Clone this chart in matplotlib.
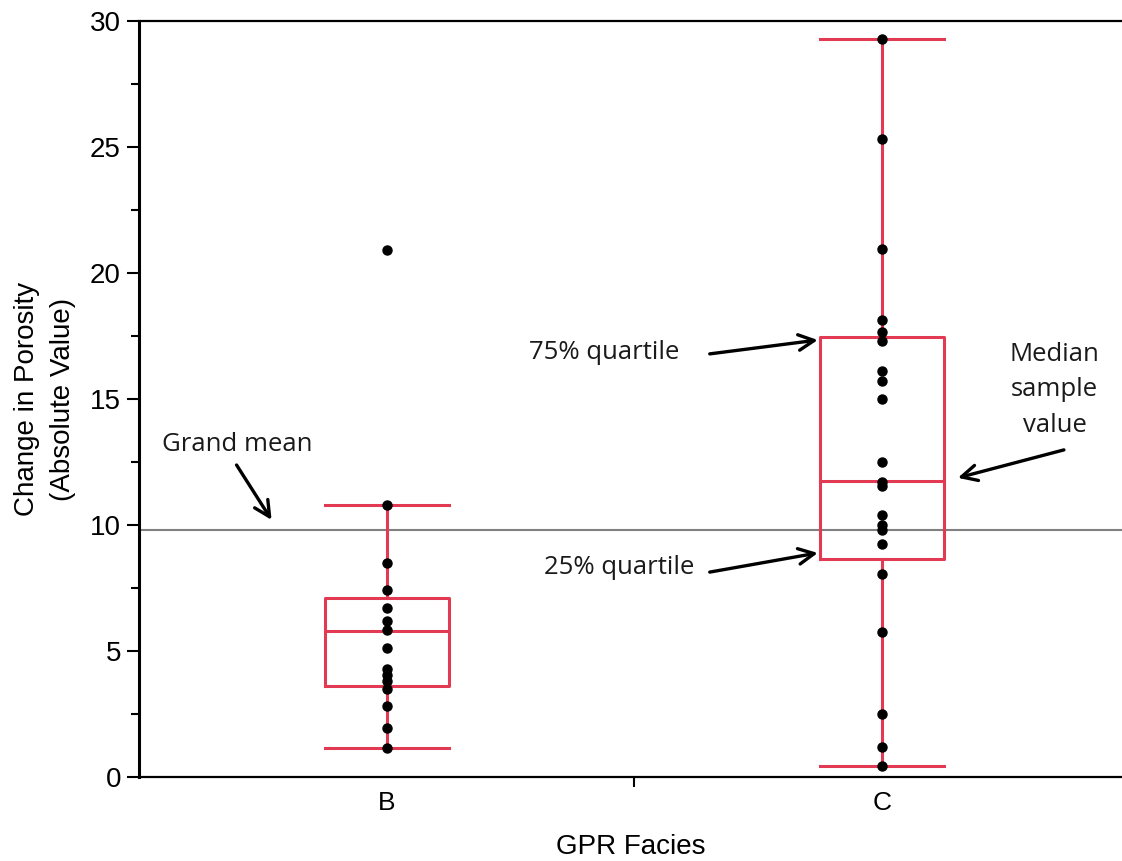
import matplotlib

matplotlib.use("Agg")
import matplotlib.pyplot as plt
from matplotlib.ticker import MultipleLocator, FixedLocator

# change in porosity per sample, grouped by GPR facies
facies = ["B", "C"]
porosity_b = [20.9, 10.8, 8.5, 7.4, 6.7, 6.2, 5.85, 5.1, 4.3, 4.05, 3.8, 3.5, 2.8, 1.95, 1.15]
porosity_c = [29.3, 25.3, 20.95, 18.15, 17.65, 17.3, 16.1, 15.7, 15.0, 12.5, 11.7,
              11.55, 10.4, 10.0, 9.8, 9.25, 8.05, 5.75, 2.5, 1.2, 0.45]

# quantile box summary (whisker low, q1, median, q3, whisker high)
whisker_lo = [1.15, 0.45]
q1 = [3.6, 8.65]
median = [5.78, 11.76]
q3 = [7.1, 17.47]
whisker_hi = [10.8, 29.3]

grand_mean = 9.8

RED = "#E23A53"

plt.rcParams["font.family"] = ["Liberation Sans", "DejaVu Sans"]

fig = plt.figure(figsize=(11.22, 8.61), dpi=100)
ax = fig.add_axes([0.1239, 0.0976, 0.8761, 0.878])

stats = []
for i, name in enumerate(facies):
    stats.append({
        "label": name, "whislo": whisker_lo[i], "q1": q1[i], "med": median[i],
        "q3": q3[i], "whishi": whisker_hi[i], "fliers": [],
    })

line_kw = dict(color=RED, linewidth=2.2)
ax.bxp(stats, positions=[0, 1], widths=0.25, capwidths=0.25, showfliers=False,
       boxprops=line_kw, whiskerprops=line_kw, capprops=line_kw, medianprops=line_kw,
       manage_ticks=False, zorder=2)

ax.axhline(grand_mean, color="#808080", linewidth=1.5, zorder=1)

for i, vals in enumerate([porosity_b, porosity_c]):
    ax.plot([i] * len(vals), vals, "o", color="black", markersize=6.5, zorder=3)

ax.set_xlim(-0.5, 1.485)
ax.set_ylim(0, 30)

ax.xaxis.set_major_locator(FixedLocator([0, 1]))
ax.set_xticklabels(facies)
ax.xaxis.set_minor_locator(FixedLocator([0.5]))
ax.tick_params(axis="x", which="major", length=0, pad=10, labelsize=19)
ax.tick_params(axis="x", which="minor", length=7, width=1.5, direction="out")

ax.yaxis.set_major_locator(MultipleLocator(5))
ax.yaxis.set_minor_locator(MultipleLocator(2.5))
ax.tick_params(axis="y", which="major", length=9, width=1.5, labelsize=20, pad=4)
ax.tick_params(axis="y", which="minor", length=6, width=1.5)

for side in ["top", "bottom"]:
    ax.spines[side].set_linewidth(1.6)
ax.spines["left"].set_linewidth(2.2)
ax.spines["right"].set_visible(False)

ax.set_ylabel("Change in Porosity\n(Absolute Value)", fontsize=20, labelpad=10,
              linespacing=1.5)
ax.set_xlabel("GPR Facies", fontsize=20, labelpad=14)

# annotations: labels and their arrows drawn separately
note_font = dict(fontsize=18.5, family=["Open Sans", "DejaVu Sans"], color="#1a1a1a",
                 ha="center", va="center")
arrow = dict(arrowstyle="->", color="black", lw=2.4, mutation_scale=28,
             shrinkA=0, shrinkB=0)

ax.text(-0.301, 13.2, "Grand mean", **note_font)
ax.text(0.44, 16.83, "75% quartile", **note_font)
ax.text(0.47, 8.33, "25% quartile", **note_font)
ax.text(1.349, 15.36, "Median\nsample\nvalue", linespacing=1.55, **note_font)

ax.annotate("", xy=(-0.2323, 10.2), xytext=(-0.303, 12.38), arrowprops=arrow)
ax.annotate("", xy=(0.8707, 17.34), xytext=(0.6525, 16.79), arrowprops=arrow)
ax.annotate("", xy=(0.8707, 8.89), xytext=(0.6525, 8.13), arrowprops=arrow)
ax.annotate("", xy=(1.1535, 11.87), xytext=(1.3677, 12.98), arrowprops=arrow)

fig.savefig("out.png", dpi=100)
